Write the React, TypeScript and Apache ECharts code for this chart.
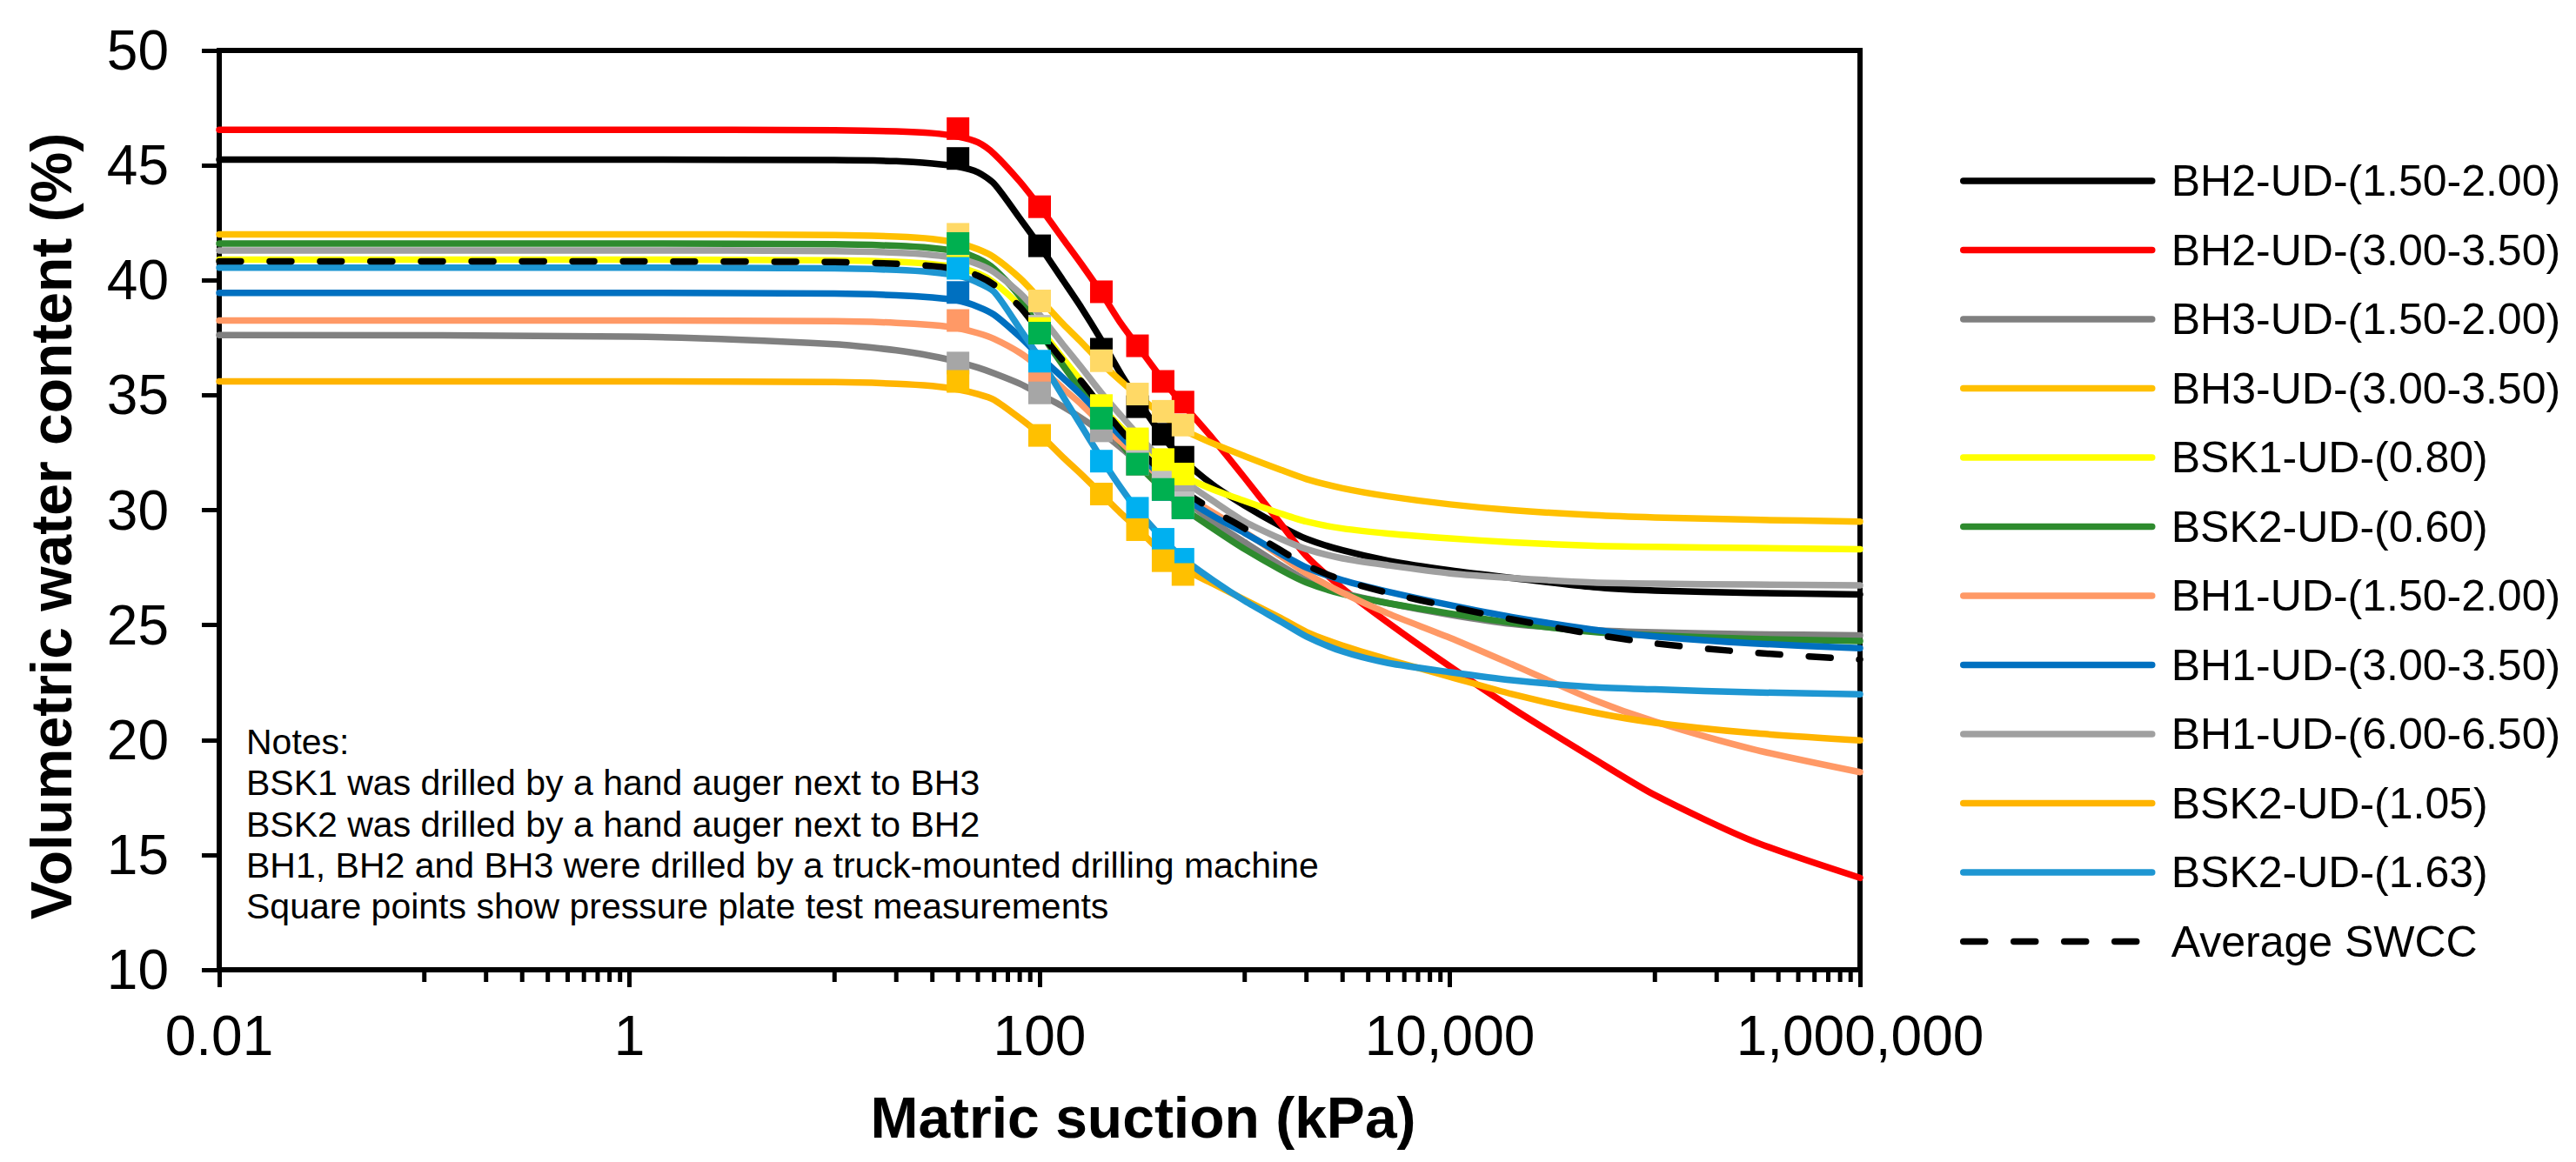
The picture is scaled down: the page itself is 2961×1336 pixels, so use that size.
import React, { useEffect, useRef } from 'react';
import * as echarts from 'echarts';

const FONT = '"Liberation Sans", Arial, Helvetica, sans-serif';

const SUCTION = [0.01, 1, 10, 20, 30, 40, 50, 60, 80, 100, 130, 160, 200, 250, 300, 400, 500, 700, 1000, 1500, 2000, 3000, 5000, 10000, 20000, 50000, 100000, 300000, 1000000];

// Fitted SWCC curves, volumetric water content (%)
const BH2_150 = [45.25, 45.25, 45.23, 45.18, 45.08, 44.95, 44.7, 44.2, 42.7, 41.5, 40.0, 38.8, 37.4, 35.9, 34.8, 33.2, 32.2, 31.1, 30.2, 29.3, 28.75, 28.25, 27.8, 27.38, 27.05, 26.65, 26.5, 26.4, 26.33];
const BH2_300 = [46.55, 46.55, 46.53, 46.48, 46.4, 46.25, 46.0, 45.5, 44.3, 43.2, 41.8, 40.7, 39.45, 38.1, 37.15, 35.65, 34.6, 33.1, 31.4, 29.4, 28.0, 26.6, 25.1, 23.2, 21.4, 19.2, 17.6, 15.6, 14.0];
const BH3_150 = [37.62, 37.55, 37.22, 36.95, 36.7, 36.45, 36.2, 35.95, 35.5, 35.05, 34.5, 34.0, 33.4, 32.7, 32.1, 31.2, 30.5, 29.5, 28.6, 27.6, 26.95, 26.4, 25.95, 25.45, 25.05, 24.78, 24.68, 24.6, 24.55];
const BH3_300 = [42.0, 42.0, 41.97, 41.9, 41.8, 41.62, 41.35, 41.0, 40.1, 39.2, 38.1, 37.3, 36.4, 35.6, 35.0, 34.1, 33.5, 32.9, 32.35, 31.75, 31.35, 30.95, 30.6, 30.25, 30.0, 29.78, 29.68, 29.58, 29.5];
const BSK1_080 = [40.9, 40.9, 40.87, 40.8, 40.7, 40.55, 40.3, 39.9, 38.9, 37.9, 36.6, 35.6, 34.5, 33.6, 33.0, 32.1, 31.5, 30.9, 30.4, 29.85, 29.5, 29.2, 28.98, 28.77, 28.6, 28.45, 28.4, 28.35, 28.3];
const BSK2_060 = [41.6, 41.6, 41.57, 41.5, 41.4, 41.25, 40.95, 40.5, 39.3, 37.8, 36.3, 35.2, 34.0, 32.9, 32.0, 30.9, 30.1, 29.2, 28.3, 27.4, 26.85, 26.35, 25.95, 25.5, 25.1, 24.7, 24.55, 24.4, 24.3];
const BH1_150 = [38.25, 38.25, 38.22, 38.15, 38.05, 37.92, 37.7, 37.45, 36.85, 36.2, 35.3, 34.6, 33.75, 32.95, 32.3, 31.35, 30.7, 29.9, 29.05, 28.0, 27.25, 26.4, 25.5, 24.45, 23.3, 21.75, 20.8, 19.6, 18.6];
const BH1_300 = [39.45, 39.45, 39.42, 39.35, 39.25, 39.12, 38.85, 38.5, 37.55, 36.7, 35.75, 35.0, 34.1, 33.2, 32.5, 31.4, 30.6, 29.75, 29.0, 28.1, 27.5, 26.95, 26.45, 25.87, 25.35, 24.8, 24.5, 24.2, 23.99];
const BH1_600 = [41.3, 41.3, 41.27, 41.2, 41.1, 40.95, 40.7, 40.35, 39.45, 38.5, 37.2, 36.2, 35.1, 34.1, 33.3, 32.1, 31.3, 30.4, 29.5, 28.75, 28.3, 27.9, 27.6, 27.25, 27.05, 26.85, 26.8, 26.76, 26.73];
const BSK2_105 = [35.6, 35.6, 35.57, 35.5, 35.4, 35.25, 35.05, 34.8, 34.0, 33.3, 32.3, 31.55, 30.7, 29.85, 29.2, 28.1, 27.45, 26.8, 26.1, 25.3, 24.7, 24.1, 23.5, 22.75, 22.0, 21.2, 20.75, 20.3, 19.98];
const BSK2_163 = [40.55, 40.55, 40.52, 40.45, 40.35, 40.2, 39.9, 39.5, 37.9, 36.6, 34.95, 33.65, 32.25, 30.95, 30.0, 28.75, 27.9, 26.95, 26.05, 25.15, 24.5, 23.85, 23.35, 22.95, 22.6, 22.3, 22.2, 22.07, 21.99];
const AVERAGE = [40.82, 40.82, 40.79, 40.72, 40.62, 40.48, 40.2, 39.8, 38.85, 37.75, 36.5, 35.6, 34.5, 33.45, 32.7, 31.6, 30.85, 30.0, 29.2, 28.25, 27.6, 26.95, 26.4, 25.8, 25.25, 24.6, 24.2, 23.8, 23.5];

// Pressure plate measurements
const PP_SUCTION = [40, 100, 200, 300, 400, 500];
const PP_BH2_150 = [45.3, 41.5, 37.0, 34.5, 33.3, 32.3];
const PP_BH2_300 = [46.6, 43.2, 39.5, 37.15, 35.6, 34.7];
const PP_BH3_150 = [36.4, 35.1, 33.45, 32.1, 31.2, 30.6];
const PP_BH3_300 = [42.0, 39.1, 36.5, 35.05, 34.3, 33.7];
const PP_BSK1_080 = [40.6, 37.9, 34.55, 33.1, 32.2, 31.57];
const PP_BSK2_060 = [41.6, 37.7, 34.0, 32.0, 30.9, 30.1];
const PP_BH1_150 = [38.25, 35.9, 33.9, 32.0, 31.0, 30.2];
const PP_BH1_300 = [39.47, 36.2, 34.0, 32.0, 30.9, 30.1];
const PP_BH1_600 = [41.3, 38.0, 34.3, 33.0, 31.4, 30.32];
const PP_BSK2_105 = [35.6, 33.25, 30.7, 29.15, 27.8, 27.2];
const PP_BSK2_163 = [40.52, 36.48, 32.13, 30.08, 28.73, 27.86];

const SERIES_NAMES = [
  'BH2-UD-(1.50-2.00)', 'BH2-UD-(3.00-3.50)', 'BH3-UD-(1.50-2.00)', 'BH3-UD-(3.00-3.50)',
  'BSK1-UD-(0.80)', 'BSK2-UD-(0.60)', 'BH1-UD-(1.50-2.00)', 'BH1-UD-(3.00-3.50)',
  'BH1-UD-(6.00-6.50)', 'BSK2-UD-(1.05)', 'BSK2-UD-(1.63)', 'Average SWCC',
];
const CURVES = [BH2_150, BH2_300, BH3_150, BH3_300, BSK1_080, BSK2_060, BH1_150, BH1_300, BH1_600, BSK2_105, BSK2_163, AVERAGE];
const LINE_COLORS = ['#000000', '#FF0000', '#808080', '#FFC000', '#FFFF00', '#2E8B2E', '#FF9966', '#0070C0', '#A0A0A0', '#FFB400', '#1E96D2', '#000000'];

// Marker series in drawing order (index into SERIES_NAMES)
const PP_ORDER = [0, 1, 7, 6, 2, 8, 3, 4, 5, 10, 9];
const PP_VALUES = [PP_BH2_150, PP_BH2_300, PP_BH3_150, PP_BH3_300, PP_BSK1_080, PP_BSK2_060, PP_BH1_150, PP_BH1_300, PP_BH1_600, PP_BSK2_105, PP_BSK2_163];
const PP_COLORS = ['#000000', '#FF0000', '#A6A6A6', '#FFD966', '#FFFF00', '#00B050', '#FF9966', '#0070C0', '#BFBFBF', '#FFC000', '#00B0F0'];

const X_TICK_VALUES = [0.01, 1, 100, 10000, 1000000];
const X_TICK_LABELS = ['0.01', '1', '100', '10,000', '1,000,000'];
const X_MINOR_TICKS = [
  0.1, 0.2, 0.3, 0.4, 0.5, 0.6, 0.7, 0.8, 0.9,
  10, 20, 30, 40, 50, 60, 70, 80, 90,
  1000, 2000, 3000, 4000, 5000, 6000, 7000, 8000, 9000,
  100000, 200000, 300000, 400000, 500000, 600000, 700000, 800000, 900000,
];

const NOTES = [
  'Notes:',
  'BSK1 was drilled by a hand auger next to BH3',
  'BSK2 was drilled by a hand auger next to BH2',
  'BH1, BH2 and BH3 were drilled by a truck-mounted drilling machine',
  'Square points show pressure plate test measurements',
];

function xLabel(v: number): string {
  let best = 0;
  let bestD = Infinity;
  for (let i = 0; i < X_TICK_VALUES.length; i++) {
    const d = Math.abs(Math.log10(v) - Math.log10(X_TICK_VALUES[i]));
    if (d < bestD) { bestD = d; best = i; }
  }
  return X_TICK_LABELS[best];
}

function textEl(text: string, x: number, y: number, size: number, bold: boolean, align: string, rotation = 0) {
  return {
    type: 'text',
    x, y, rotation,
    silent: true,
    style: {
      text,
      fill: '#000',
      fontSize: size,
      fontWeight: bold ? 'bold' : 'normal',
      fontFamily: FONT,
      align, verticalAlign: 'middle',
      textAlign: align, textVerticalAlign: 'middle',
    },
  };
}

export default function App() {
  const ref = useRef<HTMLDivElement>(null);

  useEffect(() => {
    if (!ref.current) return;
    const chart = echarts.init(ref.current, undefined, { renderer: 'svg' });

    const lineSeries = SERIES_NAMES.map((name, i) => ({
      type: 'line',
      name,
      data: SUCTION.map((s, j) => [s, CURVES[i][j]]),
      smooth: 0.25,
      symbol: 'none',
      showSymbol: false,
      silent: true,
      z: 2,
      lineStyle: {
        color: LINE_COLORS[i],
        width: 7.5,
        cap: 'round',
        join: 'round',
        type: i === 11 ? [25, 33] : 'solid',
      },
      itemStyle: { color: LINE_COLORS[i] },
    }));

    const markerSeries = PP_ORDER.map((k) => ({
      type: 'scatter',
      name: 'pp-' + SERIES_NAMES[k],
      data: PP_SUCTION.map((s, j) => [s, PP_VALUES[k][j]]),
      symbol: 'rect',
      symbolSize: 26,
      silent: true,
      z: 3,
      itemStyle: { color: PP_COLORS[k], opacity: 1, borderWidth: 0 },
    }));

    const minorTickSeries = {
      type: 'custom',
      name: 'minor-ticks',
      silent: true,
      clip: false,
      z: 5,
      data: X_MINOR_TICKS.map((v) => [v, 10]),
      renderItem: (_params: any, api: any) => {
        const p = api.coord([api.value(0), api.value(1)]);
        return {
          type: 'line',
          shape: { x1: p[0], y1: p[1], x2: p[0], y2: p[1] + 14 },
          style: { stroke: '#000', lineWidth: 5 },
        };
      },
    };

    const graphic: any[] = [
      textEl('Volumetric water content (%)', 51, 597, 66, true, 'center', Math.PI / 2),
      textEl('Matric suction (kPa)', 1306, 1277, 66, true, 'center'),
    ];
    NOTES.forEach((t, i) => {
      graphic.push(textEl(t, 275, 845 + i * 47.3, 41, false, 'left'));
    });

    const option: any = {
      animation: false,
      backgroundColor: '#ffffff',
      grid: {
        left: 244, top: 50, width: 1886, height: 1057,
        show: true, borderColor: '#000', borderWidth: 6,
        backgroundColor: 'transparent',
        containLabel: false,
      },
      xAxis: {
        type: 'log',
        logBase: 100,
        min: 0.01,
        max: 1000000,
        axisLine: { show: true, onZero: false, lineStyle: { color: '#000', width: 6 } },
        axisTick: { show: true, length: 20, lineStyle: { color: '#000', width: 5 } },
        minorTick: { show: false },
        splitLine: { show: false },
        minorSplitLine: { show: false },
        axisLabel: {
          show: true, color: '#000', fontSize: 64, fontFamily: FONT, margin: 44,
          showMinLabel: true, showMaxLabel: true, hideOverlap: false,
          formatter: (v: number) => xLabel(v),
        },
      },
      yAxis: {
        type: 'value',
        min: 10, max: 50, interval: 5,
        axisLine: { show: true, onZero: false, lineStyle: { color: '#000', width: 6 } },
        axisTick: { show: true, length: 20, lineStyle: { color: '#000', width: 5 } },
        splitLine: { show: false },
        axisLabel: {
          show: true, color: '#000', fontSize: 64, fontFamily: FONT, margin: 58,
          showMinLabel: true, showMaxLabel: true,
        },
      },
      legend: {
        show: true,
        data: SERIES_NAMES,
        orient: 'vertical',
        left: 2245,
        top: 175,
        padding: 0,
        itemWidth: 217,
        itemHeight: 14,
        itemGap: 29.5,
        selectedMode: false,
        itemStyle: { opacity: 0 },
        lineStyle: { width: 7.5, cap: 'round' },
        textStyle: { color: '#000', fontSize: 50, fontFamily: FONT, lineHeight: 50, padding: [0, 0, 0, 17] },
      },
      tooltip: { show: false },
      graphic,
      series: [...lineSeries, ...markerSeries, minorTickSeries],
    };

    chart.setOption(option);
    return () => chart.dispose();
  }, []);

  return (
    <div
      ref={ref}
      style={{ position: 'fixed', left: 0, top: 0, width: 2961, height: 1336, background: '#ffffff' }}
    />
  );
}
